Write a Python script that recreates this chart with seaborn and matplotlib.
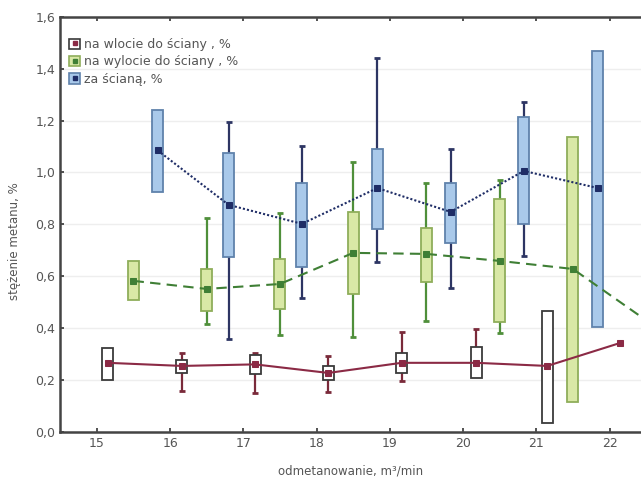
import numpy as np
import matplotlib
matplotlib.use('Agg')
import matplotlib.pyplot as plt
import seaborn as sns
from matplotlib.patches import Patch
from matplotlib.lines import Line2D
from matplotlib.legend_handler import HandlerTuple
from matplotlib.ticker import FuncFormatter

# data (box = range, whiskers = min/max, line = mean)
red_x = [15.15, 16.16, 17.16, 18.16, 19.16, 20.18, 21.15, 22.15]
red_mean = [0.266, 0.254, 0.260, 0.227, 0.266, 0.266, 0.254, 0.343]
red_box_hi = [0.324, 0.278, 0.297, 0.254, 0.305, 0.328, 0.466, np.nan]
red_box_lo = [0.200, 0.227, 0.224, 0.200, 0.227, 0.208, 0.035, np.nan]
red_wh_hi = [np.nan, 0.305, 0.305, 0.293, 0.385, 0.397, np.nan, np.nan]
red_wh_lo = [np.nan, 0.158, 0.150, 0.154, 0.197, np.nan, np.nan, np.nan]

green_x = [15.5, 16.5, 17.5, 18.5, 19.5, 20.5, 21.5, 22.5]
green_mean = [0.582, 0.551, 0.570, 0.690, 0.686, 0.659, 0.628, 0.430]
green_box_hi = [0.659, 0.628, 0.667, 0.848, 0.786, 0.898, 1.137, np.nan]
green_box_lo = [0.509, 0.466, 0.474, 0.532, 0.578, 0.424, 0.116, np.nan]
green_wh_hi = [np.nan, 0.825, 0.844, 1.041, 0.960, 0.971, np.nan, np.nan]
green_wh_lo = [np.nan, 0.416, 0.374, 0.366, 0.428, 0.382, np.nan, np.nan]

blue_x = [15.83, 16.80, 17.80, 18.83, 19.83, 20.83, 21.84]
blue_mean = [1.085, 0.875, 0.802, 0.940, 0.848, 1.006, 0.940]
blue_box_hi = [1.241, 1.076, 0.960, 1.091, 0.960, 1.214, 1.469]
blue_box_lo = [0.925, 0.675, 0.637, 0.782, 0.728, 0.802, 0.405]
blue_wh_hi = [np.nan, 1.195, 1.103, 1.442, 1.091, 1.272, np.nan]
blue_wh_lo = [np.nan, 0.358, 0.517, 0.655, 0.555, 0.678, np.nan]

labels = ['na wlocie do ściany , %', 'na wylocie do ściany , %', 'za ścianą, %']
x_ticks = [15, 16, 17, 18, 19, 20, 21, 22]
y_ticks = [0.0, 0.2, 0.4, 0.6, 0.8, 1.0, 1.2, 1.4, 1.6]

sns.set_theme(style='white')
plt.rcParams['font.family'] = ['DejaVu Sans']

fig = plt.figure(figsize=(6.41, 4.83), dpi=100)
ax = fig.add_axes([0.094, 0.106, 0.906, 0.859])

series = [
    (red_x, red_mean, red_box_lo, red_box_hi, red_wh_lo, red_wh_hi,
     'white', '#3a3a3a', '#7a2a3a', '#8b2a45', '-'),
    (green_x, green_mean, green_box_lo, green_box_hi, green_wh_lo, green_wh_hi,
     '#d9e8a6', '#8fae5a', '#4f8f3a', '#3f7f35', (0, (5, 3))),
    (blue_x, blue_mean, blue_box_lo, blue_box_hi, blue_wh_lo, blue_wh_hi,
     '#a9c9ea', '#5f82ab', '#2d3563', '#1f2d66', (0, (1, 1))),
]

handles = []
box_w = 0.15
for (x, mean, blo, bhi, wlo, whi, fill, edge, wcol, lcol, ls), lab in zip(series, labels):
    x = np.array(x)
    blo = np.array(blo)
    bhi = np.array(bhi)
    wlo = np.array(wlo)
    whi = np.array(whi)
    # whiskers
    m = ~np.isnan(whi)
    ax.vlines(x[m], bhi[m], whi[m], color=wcol, lw=1.6, zorder=2)
    ax.scatter(x[m], whi[m], marker='_', s=16, color=wcol, lw=2, zorder=2)
    m = ~np.isnan(wlo)
    ax.vlines(x[m], wlo[m], blo[m], color=wcol, lw=1.6, zorder=2)
    ax.scatter(x[m], wlo[m], marker='_', s=16, color=wcol, lw=2, zorder=2)
    # boxes
    m = ~np.isnan(bhi)
    ax.bar(x[m], bhi[m] - blo[m], bottom=blo[m], width=box_w, color=fill,
           edgecolor=edge, lw=1.3, zorder=3)
    # mean line
    sns.lineplot(x=x, y=mean, ax=ax, color=lcol, lw=1.5, linestyle=ls,
                 marker='s', markersize=4, markeredgecolor=lcol,
                 markerfacecolor=lcol, zorder=4, sort=False)
    handles.append((Patch(facecolor=fill, edgecolor=edge, lw=1.2),
                    Line2D([], [], ls='none', marker='s', markersize=3.5,
                           color=lcol)))

ax.set_xlim(14.5, 22.43)
ax.set_ylim(0, 1.6)
ax.set_xticks(x_ticks)
ax.set_yticks(y_ticks)
ax.yaxis.set_major_formatter(FuncFormatter(lambda v, p: f'{v:.1f}'.replace('.', ',')))
ax.tick_params(axis='both', direction='in', length=3, width=1.2, colors='#333333',
               labelcolor='#555555', labelsize=9, top=True, left=True, bottom=True)
ax.grid(axis='y', color='#eeeeee', lw=1)
for side in ['left', 'bottom', 'top']:
    ax.spines[side].set_color('#444444')
    ax.spines[side].set_linewidth(1.8)
ax.spines['right'].set_visible(False)

ax.set_xlabel('odmetanowanie, m³/min', fontsize=8.5, color='#555555')
ax.set_ylabel('stężenie metanu, %', fontsize=8.5, color='#555555')
ax.xaxis.set_label_coords(0.5, -0.08)
ax.yaxis.set_label_coords(-0.068, 0.46)

ax.legend(handles, labels, handler_map={tuple: HandlerTuple(ndivide=1, pad=0)},
          loc='upper left', bbox_to_anchor=(0.0, 0.97), frameon=False,
          fontsize=9, handlelength=0.9, handleheight=0.9, handletextpad=0.3,
          labelspacing=0.35, labelcolor='#555555', borderaxespad=0.3)

fig.savefig('out.png', dpi=100)
